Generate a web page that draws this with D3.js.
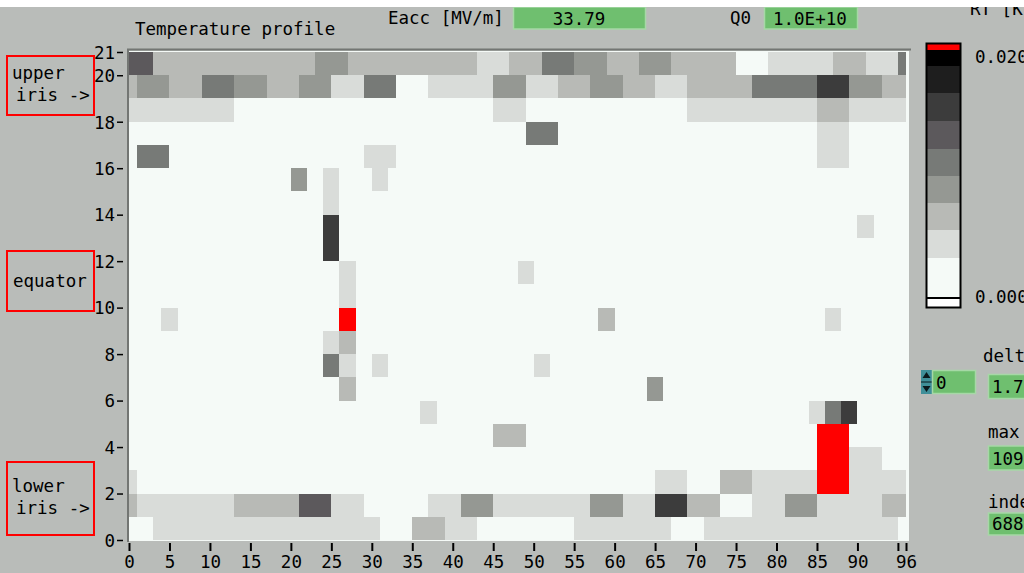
<!DOCTYPE html>
<html>
<head>
<meta charset="utf-8">
<script src="https://cdn.jsdelivr.net/npm/d3@7"></script>
<style>
  html, body { margin: 0; padding: 0; background: #b9bcb9; }
  svg { display: block; }
  text { font-family: "DejaVu Sans Mono", monospace; }
</style>
</head>
<body>
<svg id="chart" width="1024" height="573"></svg>
<script>
// ---------------- data ----------------
const xTicks = [0, 5, 10, 15, 20, 25, 30, 35, 40, 45, 50, 55, 60, 65, 70, 75, 80, 85, 90, 95, 96];
const xTickLabels = ["0","5","10","15","20","25","30","35","40","45","50","55","60","65","70","75","80","85","90","","96"];
const yTicks = [0, 2, 4, 6, 8, 10, 12, 14, 16, 18, 20, 21];

// colour levels of the temperature scale (value thresholds in K)
const levelThresholds = [0.0031, 0.0053, 0.0074, 0.0096, 0.0117, 0.0139, 0.0161, 0.0183, 0.0195];
const levelColors = ["#f5faf7", "#d9dcd9", "#b8bab6", "#959893", "#777a77", "#5c595c", "#3c3c3c", "#1e1e1e", "#000000", "#ff0000"];

// cells: [row, xStart, xEnd, deltaT]  (only non-zero cells)
const upperIrisCells = [
  [20,0,3,0.0128],[20,3,23,0.0064],[20,23,27,0.0085],[20,27,43,0.0064],[20,43,47,0.004],[20,47,51,0.0064],
  [20,51,55,0.0106],[20,55,59,0.0085],[20,59,63,0.0064],[20,63,67,0.0085],[20,67,75,0.0064],[20,79,87,0.004],
  [20,87,91,0.0064],[20,91,95,0.004],[20,95,96,0.0106],
  [19,0,1,0.0064],[19,1,5,0.0085],[19,5,9,0.0064],[19,9,13,0.0106],[19,13,17,0.0085],[19,17,21,0.0064],
  [19,21,25,0.0085],[19,25,29,0.004],[19,29,33,0.0106],[19,37,45,0.004],[19,45,49,0.0085],[19,49,53,0.004],
  [19,53,57,0.0064],[19,57,61,0.0085],[19,61,65,0.0064],[19,65,69,0.004],[19,69,77,0.0064],[19,77,85,0.0106],
  [19,85,89,0.015],[19,89,93,0.0085],[19,93,96,0.0064],
  [18,0,13,0.004],[18,45,49,0.004],[18,69,85,0.004],[18,85,89,0.0064],[18,89,96,0.004],
  [17,49,53,0.0106],[17,85,89,0.004],
  [16,1,5,0.0106],[16,29,33,0.004],[16,85,89,0.004]
];
const equatorCells = [
  [15,20,22,0.0085],[15,24,26,0.004],[15,30,32,0.004],
  [14,24,26,0.004],
  [13,24,26,0.015],[13,90,92,0.004],
  [12,24,26,0.015],
  [11,26,28,0.004],[11,48,50,0.004],
  [10,26,28,0.004],
  [9,4,6,0.004],[9,26,28,0.0215],[9,58,60,0.0064],[9,86,88,0.004],
  [8,24,26,0.004],[8,26,28,0.0064],
  [7,24,26,0.0106],[7,26,28,0.004],[7,30,32,0.004],[7,50,52,0.004],
  [6,26,28,0.0064],[6,64,66,0.0085],
  [5,36,38,0.004],[5,84,86,0.004],[5,86,88,0.0106],[5,88,90,0.015]
];
const lowerIrisCells = [
  [4,45,49,0.0064],[4,85,89,0.0215],
  [3,85,89,0.0215],[3,89,93,0.004],
  [2,0,1,0.004],[2,65,69,0.004],[2,73,77,0.0064],[2,77,85,0.004],[2,85,89,0.0215],[2,89,96,0.004],
  [1,0,1,0.0064],[1,1,13,0.004],[1,13,21,0.0064],[1,21,25,0.0128],[1,25,29,0.004],[1,37,41,0.004],
  [1,41,45,0.0085],[1,45,57,0.004],[1,57,61,0.0085],[1,61,65,0.004],[1,65,69,0.015],[1,69,73,0.0064],
  [1,77,81,0.004],[1,81,85,0.0085],[1,85,93,0.004],[1,93,96,0.0064],
  [0,3,31,0.004],[0,35,39,0.0064],[0,39,43,0.004],[0,55,67,0.004],[0,71,95,0.004]
];

const colorbarDomain = [0, 0.020];
const colorbarLabels = ["0.020", "0.000"];
const fieldLabels = ["Eacc [MV/m]", "Q0", "RT [K]", "delta T [K]", "max", "index"];
const fieldValues = ["33.79", "1.0E+10", "1.75", "109.5", "688"];
const sideLabels = [["upper", "iris ->"], ["equator"], ["lower", "iris ->"]];

// ---------------- drawing ----------------
const svg = d3.select("#chart");
const FONT = 17.5;

const x = d3.scaleLinear().domain([0, 96]).range([129, 906]);
const y = d3.scaleLinear().domain([0, 21]).range([540, 52]);
const color = d3.scaleThreshold().domain(levelThresholds).range(levelColors);

// plot background with sunken bevel
svg.append("rect").attr("x", 129).attr("y", 51).attr("width", 780).attr("height", 490).attr("fill", "#f5faf7");
svg.append("line").attr("x1", 127).attr("x2", 911).attr("y1", 49.5).attr("y2", 49.5).attr("stroke", "#737673").attr("stroke-width", 2);
svg.append("line").attr("x1", 128).attr("x2", 128).attr("y1", 49).attr("y2", 542).attr("stroke", "#737673").attr("stroke-width", 2);

const cells = upperIrisCells.concat(equatorCells, lowerIrisCells);
svg.append("g").attr("shape-rendering", "crispEdges")
  .selectAll("rect").data(cells).join("rect")
  .attr("x", d => x(d[1]))
  .attr("y", d => y(d[0] + 1))
  .attr("width", d => x(d[2]) - x(d[1]))
  .attr("height", d => y(d[0]) - y(d[0] + 1))
  .attr("fill", d => color(d[3]));

// axes
const xAxis = d3.axisBottom(x).tickValues(xTicks)
  .tickFormat((d, i) => xTickLabels[i]).tickSize(8).tickPadding(4);
const gx = svg.append("g").attr("transform", "translate(0,543)").call(xAxis);
gx.select(".domain").remove();
gx.selectAll(".tick line").attr("stroke", "#000").attr("stroke-width", 2);
gx.selectAll(".tick text").attr("font-size", FONT).attr("fill", "#000")
  .attr("font-family", "DejaVu Sans Mono").attr("dy", "0.72em");

const yAxis = d3.axisLeft(y).tickValues(yTicks).tickSize(6).tickPadding(2);
const gy = svg.append("g").attr("transform", "translate(123,0)").call(yAxis);
gy.select(".domain").remove();
gy.selectAll(".tick line").attr("stroke", "#000").attr("stroke-width", 1.5);
gy.selectAll(".tick text").attr("font-size", FONT).attr("fill", "#000")
  .attr("font-family", "DejaVu Sans Mono").attr("dy", "0.36em");

// title
svg.append("text").attr("x", 135).attr("y", 35).attr("font-size", FONT).attr("fill", "#000").text("Temperature profile");

// top fields
function greenBox(x0, y0, w, h) {
  svg.append("rect").attr("x", x0).attr("y", y0).attr("width", w).attr("height", h)
    .attr("fill", "#6fbf6f").attr("stroke", "#a6d8a6").attr("stroke-width", 1.5);
}
svg.append("text").attr("x", 388).attr("y", 24).attr("font-size", FONT).text(fieldLabels[0]);
greenBox(513.5, 7, 132, 22);
svg.append("text").attr("x", 579).attr("y", 25).attr("text-anchor", "middle").attr("font-size", FONT).text(fieldValues[0]);
svg.append("text").attr("x", 730).attr("y", 24).attr("font-size", FONT).text(fieldLabels[1]);
greenBox(764.5, 7, 93, 22);
svg.append("text").attr("x", 773).attr("y", 25).attr("font-size", FONT).text(fieldValues[1]);
svg.append("text").attr("x", 970).attr("y", 15).attr("font-size", FONT).text(fieldLabels[2]);

// white strip on top
svg.append("rect").attr("x", 0).attr("y", 0).attr("width", 1024).attr("height", 7).attr("fill", "#ffffff");

// colour bar
const cb = d3.scaleLinear().domain(colorbarDomain).range([297, 44]);
const cbEdges = [0].concat(levelThresholds, [0.020]);
svg.append("g").attr("shape-rendering", "crispEdges")
  .selectAll("rect").data(levelColors).join("rect")
  .attr("x", 927).attr("width", 33)
  .attr("y", (d, i) => cb(cbEdges[i + 1]))
  .attr("height", (d, i) => cb(cbEdges[i]) - cb(cbEdges[i + 1]))
  .attr("fill", d => d);
svg.append("rect").attr("x", 927).attr("y", 299).attr("width", 33).attr("height", 8).attr("fill", "#ffffff");
svg.append("rect").attr("x", 926.5).attr("y", 43.5).attr("width", 34).attr("height", 264)
  .attr("fill", "none").attr("stroke", "#000").attr("stroke-width", 2);
svg.append("line").attr("x1", 927).attr("x2", 960).attr("y1", 298).attr("y2", 298).attr("stroke", "#000").attr("stroke-width", 2);
svg.append("text").attr("x", 975).attr("y", 63).attr("font-size", FONT).text(colorbarLabels[0]);
svg.append("text").attr("x", 975).attr("y", 303).attr("font-size", FONT).text(colorbarLabels[1]);

// right panel
svg.append("text").attr("x", 983).attr("y", 362).attr("font-size", FONT).text(fieldLabels[3]);
// spinner
svg.append("rect").attr("x", 921).attr("y", 370).attr("width", 11).attr("height", 24).attr("fill", "#3f8f99");
svg.append("path").attr("d", "M922.5,378 L926.5,372 L930.5,378 Z M922.5,386 L926.5,392 L930.5,386 Z").attr("fill", "#0b1a1e");
svg.append("line").attr("x1", 921).attr("x2", 932).attr("y1", 382).attr("y2", 382).attr("stroke", "#0b1a1e").attr("stroke-width", 1);
greenBox(932.5, 370.5, 43, 23);
svg.append("text").attr("x", 936).attr("y", 389).attr("font-size", FONT).text("0");
greenBox(988.5, 374.5, 45, 24);
svg.append("text").attr("x", 992).attr("y", 393).attr("font-size", FONT).text(fieldValues[2]);

svg.append("text").attr("x", 988).attr("y", 438).attr("font-size", FONT).text(fieldLabels[4]);
greenBox(988.5, 446, 45, 24);
svg.append("text").attr("x", 992).attr("y", 465).attr("font-size", FONT).text(fieldValues[3]);
svg.append("text").attr("x", 988).attr("y", 508).attr("font-size", FONT).text(fieldLabels[5]);
greenBox(988.5, 513, 45, 22);
svg.append("text").attr("x", 992).attr("y", 530).attr("font-size", FONT).text(fieldValues[4]);

// side labels with red boxes
const sideBoxes = [[56, 115], [251, 311], [462, 535]];
sideLabels.forEach((lines, i) => {
  const [t, b] = sideBoxes[i];
  svg.append("rect").attr("x", 7).attr("y", t).attr("width", 87).attr("height", b - t)
    .attr("fill", "none").attr("stroke", "#ff0000").attr("stroke-width", 2);
  const mid = (t + b) / 2;
  lines.forEach((s, j) => {
    const yy = lines.length === 1 ? mid + 6 : mid - 7 + (j * 22);
    const xx = lines.length === 1 ? 13 : (j === 0 ? 12 : 16);
    svg.append("text").attr("x", xx).attr("y", yy).attr("font-size", FONT).text(s);
  });
});
</script>
</body>
</html>
